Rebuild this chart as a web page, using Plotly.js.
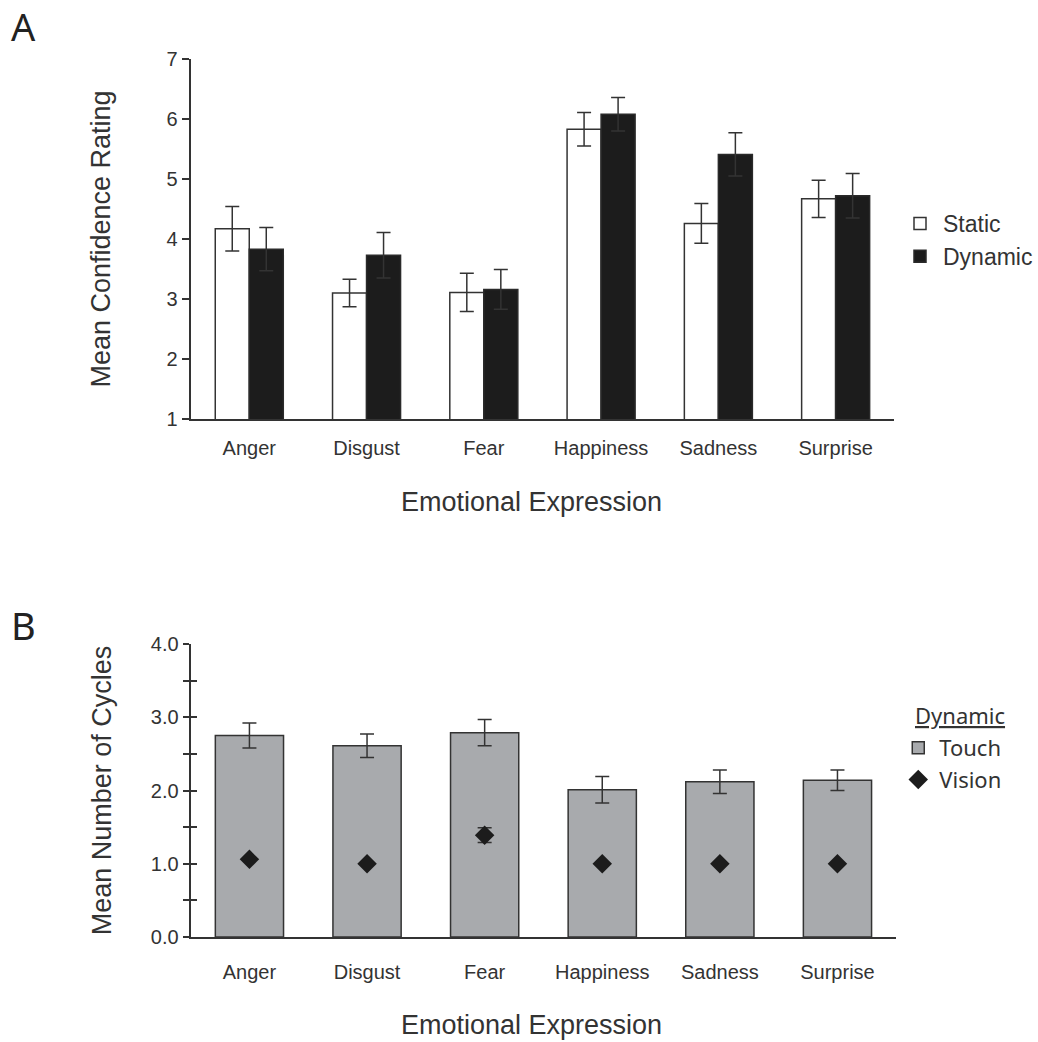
<!DOCTYPE html>
<html>
<head>
<meta charset="utf-8">
<script src="https://cdn.plot.ly/plotly-3.0.1.min.js"></script>
<style>html,body{margin:0;padding:0;background:#fff;}#chart{width:1038px;height:1042px;}</style>
</head>
<body>
<div id="chart"></div>
<script>
var categories = ['Anger', 'Disgust', 'Fear', 'Happiness', 'Sadness', 'Surprise'];
// Panel A: mean confidence rating
var staticMean = [4.17, 3.10, 3.11, 5.83, 4.26, 4.67];
var staticErr = [0.37, 0.23, 0.32, 0.28, 0.33, 0.31];
var dynamicMean = [3.83, 3.73, 3.16, 6.08, 5.41, 4.72];
var dynamicErr = [0.36, 0.38, 0.33, 0.28, 0.36, 0.37];
// Panel B: mean number of cycles
var touchMean = [2.75, 2.61, 2.79, 2.01, 2.12, 2.14];
var touchErr = [0.17, 0.16, 0.18, 0.18, 0.16, 0.14];
var visionMean = [1.06, 1.00, 1.39, 1.00, 1.00, 1.00];
var visionErr = [0, 0, 0.10, 0, 0, 0];
var ticksA = [1, 2, 3, 4, 5, 6, 7];
var ticksB = [0, 0.5, 1, 1.5, 2, 2.5, 3, 3.5, 4];
var ticksBText = ['0.0', '', '1.0', '', '2.0', '', '3.0', '', '4.0'];

var W = 1038, H = 1042;
var ink = '#333333';
var font = 'Liberation Sans, Arial, Helvetica, sans-serif';
var thin = 'Noto Sans, Open Sans, sans-serif';

var errStyle = {type: 'data', visible: true, color: ink, thickness: 1.5, width: 7};

var traces = [
  {type: 'bar', name: 'Static', x: categories, y: staticMean, xaxis: 'x', yaxis: 'y',
   marker: {color: '#ffffff', line: {color: ink, width: 1.5}},
   error_y: Object.assign({array: staticErr}, errStyle), legend: 'legend'},
  {type: 'bar', name: 'Dynamic', x: categories, y: dynamicMean, xaxis: 'x', yaxis: 'y',
   marker: {color: '#1c1c1c', line: {color: '#2a2a2a', width: 1.5}},
   error_y: Object.assign({array: dynamicErr}, errStyle), legend: 'legend'},
  {type: 'bar', name: 'Touch', x: categories, y: touchMean, xaxis: 'x2', yaxis: 'y2',
   marker: {color: '#a8aaad', line: {color: ink, width: 1.5}},
   error_y: Object.assign({array: touchErr}, errStyle), legend: 'legend2'},
  {type: 'scatter', mode: 'markers', name: 'Vision', x: categories, y: visionMean, xaxis: 'x2', yaxis: 'y2',
   marker: {symbol: 'diamond', size: 15, color: '#1c1c1c'},
   error_y: Object.assign({array: visionErr}, errStyle), legend: 'legend2'},
  // invisible carrier so the inner-tick overlay axis of panel B is drawn
  {type: 'scatter', mode: 'markers', x: categories, y: visionMean, xaxis: 'x2', yaxis: 'y3',
   marker: {opacity: 0}, showlegend: false, hoverinfo: 'skip'}
];

function px(x) { return x / W; }
function py(y) { return 1 - y / H; }

var layout = {
  width: W, height: H,
  margin: {l: 0, r: 0, t: 0, b: 0},
  paper_bgcolor: '#ffffff', plot_bgcolor: '#ffffff',
  font: {family: font, color: ink, size: 20},
  barmode: 'group',
  bargap: 0.42,
  bargroupgap: 0,
  showlegend: true,
  xaxis: {domain: [px(191), px(896)], anchor: 'y', range: [-0.5, 5.5],
          showline: true, linecolor: ink, linewidth: 2, ticks: '', showgrid: false, zeroline: false,
          tickfont: {size: 20, color: ink}, ticklabelstandoff: 10},
  yaxis: {domain: [py(419), py(59)], anchor: 'x', range: [1, 7], tickvals: ticksA,
          showline: true, linecolor: ink, linewidth: 2, ticks: 'outside', ticklen: 7, tickwidth: 2, tickcolor: ink,
          showgrid: false, zeroline: false, tickfont: {size: 20, color: ink},
          title: {text: 'Mean Confidence Rating', font: {size: 27, color: ink}, standoff: 48}},
  xaxis2: {domain: [px(191), px(898)], anchor: 'y2', range: [-0.5, 5.5],
           showline: true, linecolor: ink, linewidth: 2, ticks: '', showgrid: false, zeroline: false,
           tickfont: {size: 20, color: ink}, ticklabelstandoff: 16},
  yaxis2: {domain: [py(937), py(644)], anchor: 'x2', range: [0, 4], tickvals: ticksB, ticktext: ticksBText,
           showline: true, linecolor: ink, linewidth: 2, ticks: 'outside', ticklen: 6, tickwidth: 2, tickcolor: ink,
           showgrid: false, zeroline: false, tickfont: {size: 20, color: ink},
           title: {text: 'Mean Number of Cycles', font: {size: 27, color: ink}, standoff: 31}},
  yaxis3: {overlaying: 'y2', anchor: 'x2', range: [0, 4], tickvals: ticksB,
           showline: false, ticks: 'inside', ticklen: 6, tickwidth: 2, tickcolor: ink,
           showticklabels: false, showgrid: false, zeroline: false},
  legend: {x: px(899), y: py(202), xanchor: 'left', yanchor: 'top', bgcolor: 'rgba(0,0,0,0)',
           font: {size: 23, color: ink}, traceorder: 'normal', itemwidth: 36},
  legend2: {x: px(899), y: py(727), xanchor: 'left', yanchor: 'top', bgcolor: 'rgba(0,0,0,0)',
            font: {family: thin, size: 22, color: ink}, traceorder: 'normal', itemwidth: 32},
  annotations: [
    {text: 'A', xref: 'paper', yref: 'paper', x: px(9), y: py(-2), xanchor: 'left', yanchor: 'top',
     showarrow: false, font: {family: thin, size: 38, color: '#222'}},
    {text: 'B', xref: 'paper', yref: 'paper', x: px(9), y: py(597), xanchor: 'left', yanchor: 'top',
     showarrow: false, font: {family: thin, size: 38, color: '#222'}},
    {text: 'Dynamic', xref: 'paper', yref: 'paper', x: px(915), y: py(715), xanchor: 'left', yanchor: 'middle',
     showarrow: false, font: {family: thin, size: 22, color: ink, lineposition: 'under'}},
    {text: 'Emotional Expression', xref: 'paper', yref: 'paper', x: px(533), y: py(502), xanchor: 'center', yanchor: 'middle',
     showarrow: false, font: {size: 27, color: ink}},
    {text: 'Emotional Expression', xref: 'paper', yref: 'paper', x: px(533), y: py(1025), xanchor: 'center', yanchor: 'middle',
     showarrow: false, font: {size: 27, color: ink}}
  ]
};

Plotly.newPlot('chart', traces, layout, {displayModeBar: false, staticPlot: true});
</script>
</body>
</html>
